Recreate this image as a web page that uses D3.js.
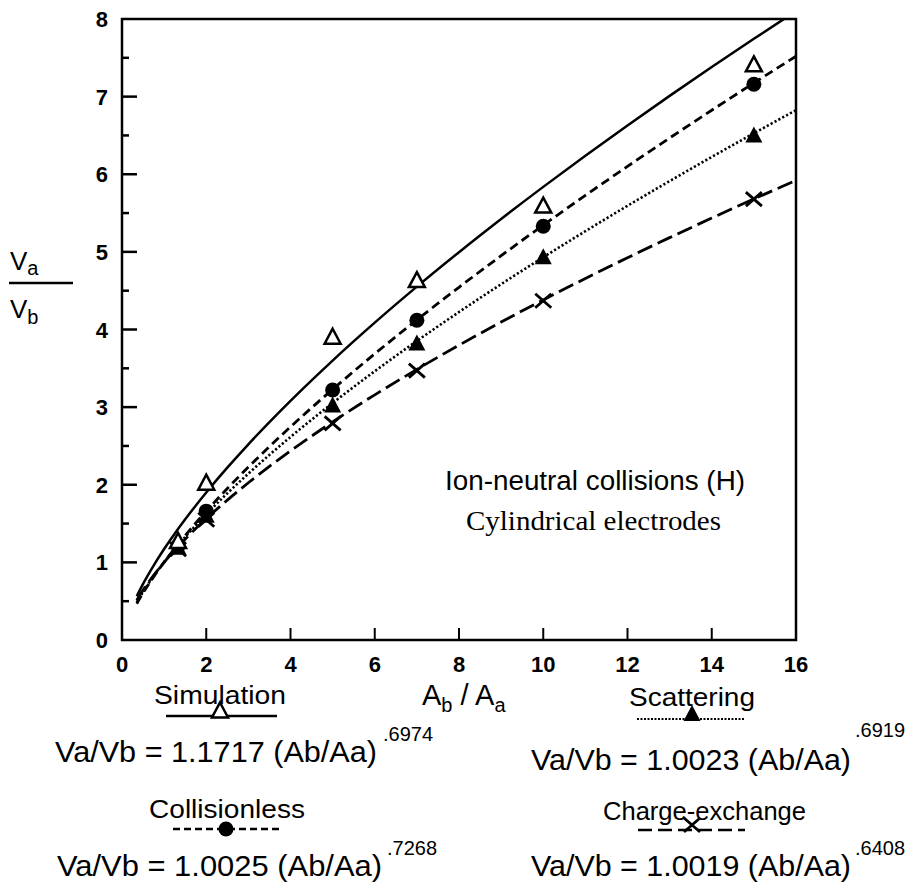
<!DOCTYPE html>
<html><head><meta charset="utf-8">
<script src="https://cdn.jsdelivr.net/npm/d3@7"></script>
<style>body{margin:0;background:#fff}svg{display:block}</style>
</head><body>
<script>
// ---- data ----
const categories     = [1.33, 2, 5, 7, 10, 15];           // Ab/Aa
const simulation     = [1.27, 2.02, 3.90, 4.63, 5.59, 7.41];
const collisionless  = [1.21, 1.66, 3.22, 4.12, 5.33, 7.16];
const scattering     = [1.19, 1.60, 3.02, 3.82, 4.93, 6.50];
const chargeExchange = [1.17, 1.55, 2.79, 3.47, 4.37, 5.68];
const seriesNames    = ["Simulation", "Collisionless", "Scattering", "Charge-exchange"];
const fitCoef        = [1.1717, 1.0025, 1.0023, 1.0019];
const fitExp         = [".6974", ".7268", ".6919", ".6408"];
const curveX         = [0.35,0.5,0.75,1,1.25,1.5,2,2.5,3,3.5,4,5,6,7,8,9,10,11,12,13,14,15,16];
const xTicks = [0,2,4,6,8,10,12,14,16];
const yTicks = [0,1,2,3,4,5,6,7,8];
const yMinor = [0.5,1.5,2.5,3.5,4.5,5.5,6.5,7.5];

const W = 915, H = 884;
const svg = d3.select("body").append("svg").attr("width", W).attr("height", H);
const x = d3.scaleLinear().domain([0,16]).range([122,796]);
const y = d3.scaleLinear().domain([0,8]).range([640,19]);
const SANS = "'Liberation Sans', Arial, Helvetica, sans-serif";
const SERIF = "'Liberation Serif', 'Times New Roman', serif";

svg.append("defs").append("clipPath").attr("id","plot")
  .append("rect").attr("x",x(0)).attr("y",y(8)).attr("width",x(16)-x(0)).attr("height",y(0)-y(8));

// frame
svg.append("rect").attr("x",x(0)).attr("y",y(8)).attr("width",x(16)-x(0)).attr("height",y(0)-y(8))
  .attr("fill","none").attr("stroke","#000").attr("stroke-width",2.5);

// ticks
svg.append("g").selectAll("line").data(xTicks.slice(1,-1)).join("line")
  .attr("x1",d=>x(d)).attr("x2",d=>x(d)).attr("y1",y(0)).attr("y2",y(0)-12)
  .attr("stroke","#000").attr("stroke-width",2);
svg.append("g").selectAll("line").data(yTicks.slice(1,-1)).join("line")
  .attr("x1",x(0)).attr("x2",x(0)+15).attr("y1",d=>y(d)).attr("y2",d=>y(d))
  .attr("stroke","#000").attr("stroke-width",2.5);
svg.append("g").selectAll("line").data(yMinor).join("line")
  .attr("x1",x(0)).attr("x2",x(0)+7).attr("y1",d=>y(d)).attr("y2",d=>y(d))
  .attr("stroke","#000").attr("stroke-width",2.5);

// tick labels
svg.append("g").selectAll("text").data(xTicks).join("text")
  .attr("x",d=>x(d)).attr("y",y(0)+32).attr("text-anchor","middle")
  .attr("font-family",SANS).attr("font-weight","bold").attr("font-size",22).text(d=>d);
svg.append("g").selectAll("text").data(yTicks).join("text")
  .attr("x",x(0)-14).attr("y",d=>y(d)+8).attr("text-anchor","end")
  .attr("font-family",SANS).attr("font-weight","bold").attr("font-size",22).text(d=>d);

// curves
const styles = [
  {dash:null, w:2.5},
  {dash:"9,5", w:2.8},
  {dash:"2.2,2.2", w:2.6},
  {dash:"16,6", w:2.8}
];
const line = d3.line().x(d=>x(d[0])).y(d=>y(d[1])).curve(d3.curveMonotoneX);
const pts = [simulation, collisionless, scattering, chargeExchange];
const cg = svg.append("g").attr("clip-path","url(#plot)");
fitCoef.forEach((c,i)=>{
  const p = +fitExp[i];
  cg.append("path").datum(curveX.map(v=>[v, c*Math.pow(v,p)]))
    .attr("d",line).attr("fill","none").attr("stroke","#000")
    .attr("stroke-width",styles[i].w).attr("stroke-dasharray",styles[i].dash);
});

// markers
function marker(g, type, cx, cy){
  if(type===0){
    g.append("path").attr("d",`M${cx},${cy-8.5} L${cx+8},${cy+6.5} L${cx-8},${cy+6.5} Z`)
     .attr("fill","#fff").attr("stroke","#000").attr("stroke-width",2.5).attr("stroke-linejoin","miter");
  } else if(type===1){
    g.append("circle").attr("cx",cx).attr("cy",cy).attr("r",7.5).attr("fill","#000");
  } else if(type===2){
    g.append("path").attr("d",`M${cx},${cy-9} L${cx+8.5},${cy+7} L${cx-8.5},${cy+7} Z`).attr("fill","#000");
  } else {
    g.append("path").attr("d",`M${cx-8},${cy-7} L${cx+8},${cy+7} M${cx-8},${cy+7} L${cx+8},${cy-7}`)
     .attr("stroke","#000").attr("stroke-width",2.8).attr("fill","none");
  }
}
const mg = svg.append("g");
[3,2,1,0].forEach(i=>{
  categories.forEach((c,j)=>marker(mg,i,x(c),y(pts[i][j])));
});

// axis titles
const xt = svg.append("text").attr("x",422).attr("y",705).attr("font-family",SANS).attr("font-size",29);
xt.append("tspan").text("A");
xt.append("tspan").attr("font-size",20).attr("dy",7).text("b");
xt.append("tspan").attr("dy",-7).text(" / A");
xt.append("tspan").attr("font-size",20).attr("dy",7).text("a");

const ya = svg.append("text").attr("x",10).attr("y",270).attr("font-family",SANS).attr("font-size",26);
ya.append("tspan").text("V");
ya.append("tspan").attr("font-size",20).attr("dy",5).text("a");
svg.append("line").attr("x1",9).attr("x2",73).attr("y1",283).attr("y2",283).attr("stroke","#000").attr("stroke-width",2.5);
const yb = svg.append("text").attr("x",10).attr("y",318).attr("font-family",SANS).attr("font-size",26);
yb.append("tspan").text("V");
yb.append("tspan").attr("font-size",20).attr("dy",6).text("b");

// annotation
svg.append("text").attr("x",445).attr("y",490).attr("font-family",SANS).attr("font-size",27)
  .attr("textLength",300).attr("lengthAdjust","spacingAndGlyphs").text("Ion-neutral collisions (H)");
svg.append("text").attr("x",466).attr("y",530).attr("font-family",SERIF).attr("font-size",27)
  .attr("textLength",255).attr("lengthAdjust","spacingAndGlyphs").text("Cylindrical electrodes");

// legend blocks
const legend = [
  {name:0, nx:154, nw:132, ny:704, lx1:166, lx2:277, ly:716, mx:220, ex:55,  ey:762, sx:383, sy:741, ew:322},
  {name:1, nx:149, nw:156, ny:818, lx1:173, lx2:283, ly:829, mx:226, ex:57,  ey:876, sx:387, sy:855, ew:325},
  {name:2, nx:629, nw:126, ny:706, lx1:637, lx2:745, ly:719, mx:692, ex:531, ey:770, sx:855, sy:737, ew:320},
  {name:3, nx:603, nw:203, ny:820, lx1:638, lx2:745, ly:830, mx:692, ex:531, ey:876, sx:855, sy:855, ew:320}
];
legend.forEach((L,i)=>{
  const g = svg.append("g");
  g.append("text").attr("x",L.nx).attr("y",L.ny).attr("font-family",SANS).attr("font-size",26)
    .attr("textLength",L.nw).attr("lengthAdjust","spacingAndGlyphs").text(seriesNames[i]);
  g.append("line").attr("x1",L.lx1).attr("x2",L.lx2).attr("y1",L.ly).attr("y2",L.ly)
    .attr("stroke","#000").attr("stroke-width",i===2?2.2:2.5).attr("stroke-dasharray",
      i===0?null: i===1?"7,4": i===2?"2,1.5":"14,6");
  marker(g, i, L.mx, i===1? L.ly : L.ly-5);
  g.append("text").attr("x",L.ex).attr("y",L.ey).attr("font-family",SANS).attr("font-size",29)
    .attr("textLength",L.ew).attr("lengthAdjust","spacingAndGlyphs")
    .text(`Va/Vb = ${fitCoef[i].toFixed(4)} (Ab/Aa)`);
  g.append("text").attr("x",L.sx).attr("y",L.sy).attr("font-family",SANS).attr("font-size",20)
    .text(fitExp[i]);
});
</script>
</body></html>
